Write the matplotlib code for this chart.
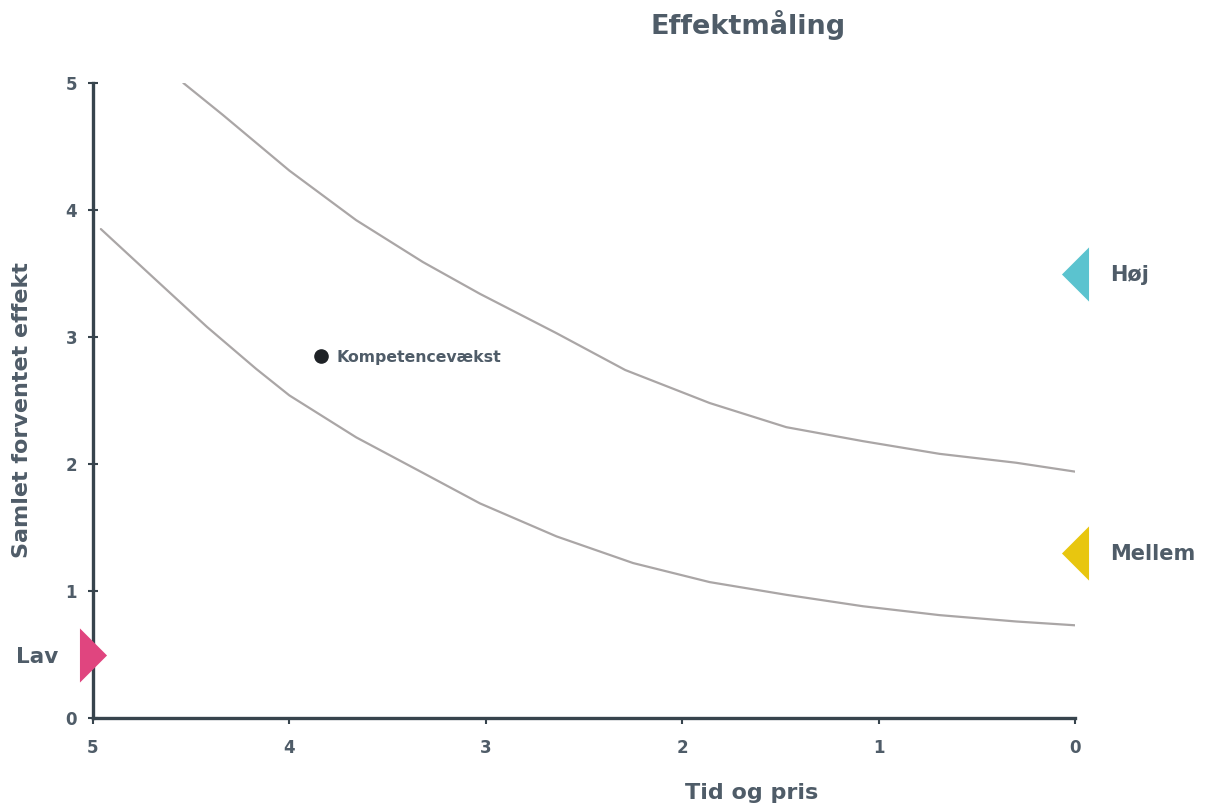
import matplotlib
matplotlib.use("Agg")
import matplotlib.pyplot as plt
from matplotlib.path import Path

# ---- data ----
upper_x = [4.54, 4.34, 4.0, 3.66, 3.32, 3.03, 2.64, 2.29, 1.86, 1.47, 1.08, 0.69, 0.30, 0.0]
upper_y = [5.0, 4.75, 4.31, 3.92, 3.59, 3.34, 3.03, 2.74, 2.48, 2.29, 2.18, 2.08, 2.01, 1.94]
lower_x = [4.96, 4.68, 4.42, 4.17, 4.0, 3.66, 3.32, 3.03, 2.64, 2.25, 1.86, 1.47, 1.08, 0.69, 0.30, 0.0]
lower_y = [3.85, 3.45, 3.08, 2.75, 2.54, 2.21, 1.93, 1.69, 1.43, 1.22, 1.07, 0.97, 0.88, 0.81, 0.76, 0.73]

point_x = [3.84]
point_y = [2.85]
point_labels = ["Kompetencevækst"]

level_labels = ["Høj", "Mellem", "Lav"]
level_x = [0, 0, 5]
level_y = [3.5, 1.3, 0.5]
level_colors = ["#5bc3cf", "#e8c60f", "#e0457f"]
level_dirs = ["left", "left", "right"]

xticks = [5, 4, 3, 2, 1, 0]
yticks = [0, 1, 2, 3, 4, 5]

title = "Effektmåling"
xlabel = "Tid og pris"
ylabel = "Samlet forventet effekt"

# ---- style ----
txt = "#4f5c68"
axc = "#37444d"
plt.rcParams['font.family'] = ['DejaVu Sans']

fig = plt.figure(figsize=(12.11, 8.07), dpi=100)
ax = fig.add_axes([93/1211, 1-718/807, (1075-93)/1211, (718-83)/807])
ax.set_xlim(5, 0)
ax.set_ylim(0, 5)

ax.plot(upper_x, upper_y, color="#aaa6a6", lw=1.6, solid_capstyle='round', solid_joinstyle='round')
ax.plot(lower_x, lower_y, color="#aaa6a6", lw=1.6, solid_capstyle='round', solid_joinstyle='round')

ax.plot(point_x, point_y, 'o', color="#1e2226", ms=9.5, zorder=5)
for x, y, l in zip(point_x, point_y, point_labels):
    ax.annotate(l, (x, y), xytext=(11, -1), textcoords='offset points',
                fontsize=11.3, fontweight='bold', color=txt, va='center', ha='left')

left_tri = Path([(0.5, 1), (0.5, -1), (-0.5, 0), (0.5, 1)])
right_tri = Path([(-0.5, 1), (-0.5, -1), (0.5, 0), (-0.5, 1)])
for lab, x, y, c, d in zip(level_labels, level_x, level_y, level_colors, level_dirs):
    m = left_tri if d == "left" else right_tri
    ax.plot([x], [y], marker=m, ms=39, color=c, mec='none', clip_on=False, zorder=6)
    if d == "left":
        ax.annotate(lab, (x, y), xytext=(25, -1), textcoords='offset points',
                    fontsize=15, fontweight='bold', color=txt, va='center', ha='left')
    else:
        ax.annotate(lab, (x, y), xytext=(-25, -2), textcoords='offset points',
                    fontsize=15.5, fontweight='bold', color=txt, va='center', ha='right')

for s in ['top', 'right']:
    ax.spines[s].set_visible(False)
for s in ['left', 'bottom']:
    ax.spines[s].set_color(axc)
    ax.spines[s].set_linewidth(2.4)

ax.set_xticks(xticks)
ax.set_yticks(yticks)
ax.set_xticklabels([str(v) for v in xticks])
ax.set_yticklabels([str(v) for v in yticks])
ax.tick_params(axis='y', direction='inout', length=7, width=1.5, color=axc,
               labelsize=12, labelcolor=txt, pad=8)
ax.tick_params(axis='x', direction='out', length=4, width=1.5, color=axc,
               labelsize=12, labelcolor=txt, pad=11)
for t in ax.get_xticklabels() + ax.get_yticklabels():
    t.set_fontweight('bold')

fig.text(748/1211, 1-25/807, title, ha='center', va='center', fontsize=19.5,
         fontweight='bold', color=txt)
fig.text(752/1211, 1-793/807, xlabel, ha='center', va='center', fontsize=16,
         fontweight='bold', color=txt)
fig.text(22/1211, 1-410/807, ylabel, ha='center', va='center', fontsize=16,
         fontweight='bold', color=txt, rotation=90)

fig.savefig("out.png", dpi=100, facecolor='white')
